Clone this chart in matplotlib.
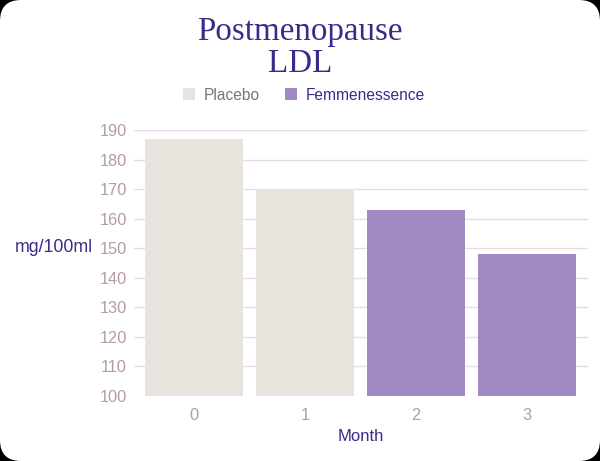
import matplotlib.pyplot as plt
from matplotlib.patches import FancyBboxPatch, Patch

# data
months = ["0", "1", "2", "3"]
ldl = [187, 170, 163, 148]
groups = ["Placebo", "Placebo", "Femmenessence", "Femmenessence"]
y_ticks = [100, 110, 120, 130, 140, 150, 160, 170, 180, 190]

purple = "#3b2a8c"
placebo_col = "#e8e4dd"
femme_col = "#a18ac2"
tick_col = "#b59aa8"
grid_col = "#e6dce1"

fig = plt.figure(figsize=(6, 4.61), dpi=100)
fig.patch.set_facecolor("black")
fig.patches.append(FancyBboxPatch((0.0, 0.0), 1.0, 1.0, boxstyle="round,pad=0,rounding_size=0.035",
                                  transform=fig.transFigure, facecolor="white", edgecolor="none",
                                  zorder=-5, mutation_aspect=600 / 461))

ax = fig.add_axes([134 / 600, 1 - 396 / 461, (588 - 134) / 600, (396 - 130) / 461])
ax.set_zorder(2)
ax.set_facecolor("none")

colors = [placebo_col if g == "Placebo" else femme_col for g in groups]
ax.bar(range(len(months)), ldl, width=0.89, color=colors, zorder=2)

ax.set_xlim(-0.54, 3.55)
ax.set_ylim(100, 190)
ax.set_yticks(y_ticks)
ax.set_xticks(range(len(months)))
ax.set_xticklabels(months)

for s in ax.spines.values():
    s.set_visible(False)
ax.tick_params(axis="both", length=0, colors=tick_col, labelsize=11.8)
ax.tick_params(axis="y", pad=5)
ax.tick_params(axis="x", pad=9)
for lab in ax.get_xticklabels() + ax.get_yticklabels():
    lab.set_family("Liberation Sans")

ax.yaxis.grid(True, color=grid_col, linewidth=1, zorder=0)
ax.set_axisbelow(True)
ax.yaxis.get_gridlines()[0].set_visible(False)

ax.set_xlabel("Month", color=purple, fontsize=12, family="Liberation Sans", labelpad=4)
fig.text(15 / 600, 1 - 248 / 461, "mg/100ml", color=purple, fontsize=12.8,
         family="Liberation Sans", ha="left", va="center")

fig.text(0.5, 1 - 48 / 461, "Postmenopause\nLDL", color=purple, fontsize=23.8,
         family="Liberation Serif", ha="center", va="center", linespacing=1.08)

handles = [Patch(facecolor=placebo_col, edgecolor="none"), Patch(facecolor=femme_col, edgecolor="none")]
leg = fig.legend(handles, ["Placebo", "Femmenessence"], loc="center", ncol=2,
                 bbox_to_anchor=(304 / 600, 1 - 95 / 461), frameon=False,
                 handlelength=0.75, handleheight=0.75, handletextpad=0.6, columnspacing=1.6,
                 prop={"family": "Liberation Sans", "size": 11.2})
leg.get_texts()[0].set_color("#7a7474")
leg.get_texts()[1].set_color(purple)

fig.savefig("out.png", dpi=100, facecolor=fig.get_facecolor())
